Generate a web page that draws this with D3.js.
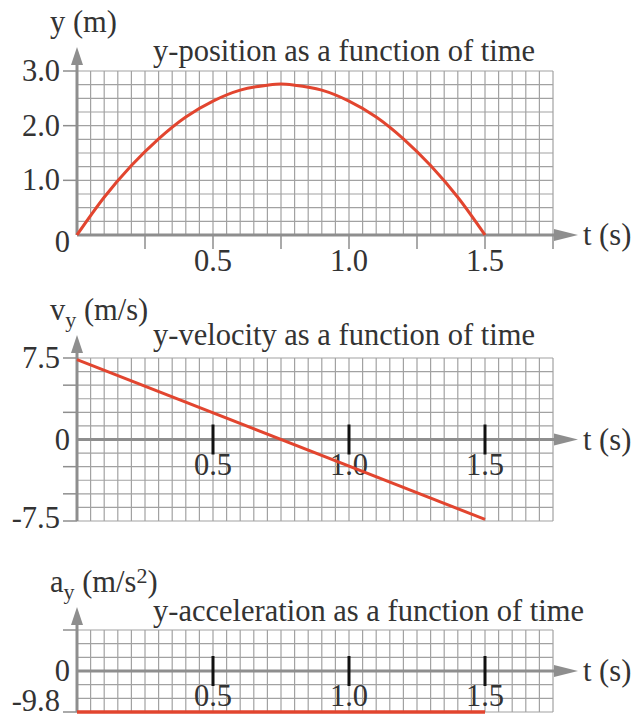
<!DOCTYPE html>
<html>
<head>
<meta charset="utf-8">
<script src="https://cdn.jsdelivr.net/npm/d3@7/dist/d3.min.js"></script>
<style>
  html, body { margin: 0; padding: 0; background: #fff; }
  svg { display: block; }
  text { font-family: "Liberation Serif", "Times New Roman", serif; fill: #333; }
</style>
</head>
<body>
<svg id="chart" width="642" height="719"></svg>
<script>
// Projectile motion in the vertical direction: position, velocity, acceleration vs. time.

// Time samples (s)
const timeSamples = [0, 0.1, 0.2, 0.3, 0.4, 0.5, 0.6, 0.7, 0.75, 0.8, 0.9, 1.0, 1.1, 1.2, 1.3, 1.4, 1.5];
// y-position (m)
const positionValues = [0, 0.69, 1.27, 1.76, 2.16, 2.45, 2.65, 2.74, 2.76, 2.74, 2.65, 2.45, 2.16, 1.76, 1.27, 0.69, 0];
// y-velocity (m/s)
const velocityTimes = [0, 1.5];
const velocityValues = [7.35, -7.35];
// y-acceleration (m/s^2)
const accelTimes = [0, 1.5];
const accelValues = [-9.8, -9.8];

// Tick labels
const timeTickLabels = [0.5, 1.0, 1.5];
const positionTicks = [0, 1, 2, 3];
const velocityTicks = [-7.5, -5, -2.5, 2.5, 5, 7.5];
const velocityLabels = [-7.5, 0, 7.5];
const accelTicks = [-9.8, 9.8];
const accelLabels = [-9.8, 0];

const svg = d3.select("#chart");
const GRID = "#a2a2a2";
const AXIS = "#8e8e8e";
const RED = "#e2452f";
const FONT = 30.5;
const SUB = 22;

const x = d3.scaleLinear().domain([0, 1.75]).range([77, 553]);
const gridTimes = d3.range(0, 36).map(i => i * 0.05);

function arrowUp(g, cx, tipY) {
  g.append("path")
    .attr("d", `M${cx},${tipY} L${cx - 6},${tipY + 18} L${cx + 6},${tipY + 18} Z`)
    .attr("fill", AXIS);
}
function arrowRight(g, tipX, cy) {
  g.append("path")
    .attr("d", `M${tipX},${cy} L${tipX - 24},${cy - 6} L${tipX - 24},${cy + 6} Z`)
    .attr("fill", AXIS);
}

function panel(opts) {
  const g = svg.append("g");
  const y = d3.scaleLinear().domain(opts.domain).range(opts.range);
  const [y0, y1] = [y(opts.domain[0]), y(opts.domain[1])];

  // grid
  g.selectAll(null).data(gridTimes).join("line")
    .attr("x1", d => x(d)).attr("x2", d => x(d))
    .attr("y1", y0).attr("y2", y1)
    .attr("stroke", GRID).attr("stroke-width", 1.2);
  g.selectAll(null).data(opts.gridRows).join("line")
    .attr("x1", x(0)).attr("x2", x(1.75))
    .attr("y1", d => y(d)).attr("y2", d => y(d))
    .attr("stroke", GRID).attr("stroke-width", 1.2);

  // y ticks to the left of the axis
  g.selectAll(null).data(opts.yTicks).join("line")
    .attr("x1", x(0) - 14).attr("x2", x(0))
    .attr("y1", d => y(d)).attr("y2", d => y(d))
    .attr("stroke", AXIS).attr("stroke-width", 1.5);

  // y axis with arrow
  g.append("line")
    .attr("x1", x(0)).attr("x2", x(0))
    .attr("y1", y0).attr("y2", opts.arrowTip + 10)
    .attr("stroke", AXIS).attr("stroke-width", 3);
  arrowUp(g, x(0), opts.arrowTip);

  // time axis with arrow
  const ax = y(opts.axisValue);
  g.append("line")
    .attr("x1", x(0)).attr("x2", 565)
    .attr("y1", ax).attr("y2", ax)
    .attr("stroke", AXIS).attr("stroke-width", 3);
  arrowRight(g, 578, ax);
  g.append("text").attr("x", 583).attr("y", ax + 10)
    .attr("font-size", FONT).text("t (s)");

  // y labels
  g.selectAll(null).data(opts.yLabels).join("text")
    .attr("x", d => d === 0 ? 70 : 60).attr("text-anchor", "end")
    .attr("y", d => opts.labelPos(d, y))
    .attr("font-size", FONT)
    .text(d => d === 0 ? "0" : d.toFixed(1));

  // title
  g.append("text").attr("x", 153).attr("y", opts.titleY)
    .attr("font-size", FONT).text(opts.title);

  // axis name
  const lab = g.append("text").attr("x", 50).attr("y", opts.labelY).attr("font-size", FONT);
  opts.label(lab);

  return { g, y };
}

const line = (y) => d3.line().x(d => x(d[0])).y(d => y(d[1]));

// ---- Panel 1: position ----
const p1 = panel({
  domain: [0, 3], range: [235, 71],
  gridRows: d3.range(0, 13).map(i => i * 0.25),
  yTicks: positionTicks.filter(d => d > 0),
  yLabels: positionTicks,
  labelPos: (d, y) => y(d) + (d === 0 ? 17 : 10),
  axisValue: 0, arrowTip: 47,
  title: "y-position as a function of time", titleY: 61,
  labelY: 32,
  label: t => t.text("y (m)")
});
// ticks below the time axis
p1.g.selectAll(null).data(d3.range(1, 8).map(i => i * 0.25)).join("line")
  .attr("x1", d => x(d)).attr("x2", d => x(d))
  .attr("y1", 235).attr("y2", 249)
  .attr("stroke", AXIS).attr("stroke-width", 1.5);
p1.g.selectAll(null).data(timeTickLabels).join("text")
  .attr("x", d => x(d)).attr("y", 271).attr("text-anchor", "middle")
  .attr("font-size", FONT).text(d => d.toFixed(1));
p1.g.append("path")
  .datum(d3.zip(timeSamples, positionValues))
  .attr("d", line(p1.y).curve(d3.curveMonotoneX))
  .attr("fill", "none").attr("stroke", RED).attr("stroke-width", 3);

// Black tick bars and labels on a centered time axis
function centeredTicks(p, labelY) {
  const ax = p.y(0);
  p.g.selectAll(null).data(timeTickLabels).join("text")
    .attr("x", d => x(d)).attr("y", labelY).attr("text-anchor", "middle")
    .attr("font-size", FONT).attr("fill", "#444").text(d => d.toFixed(1));
  p.g.selectAll(null).data(timeTickLabels).join("line")
    .attr("x1", d => x(d)).attr("x2", d => x(d))
    .attr("y1", ax - 15).attr("y2", ax + 15)
    .attr("stroke", "#111").attr("stroke-width", 3);
}

// ---- Panel 2: velocity ----
const p2 = panel({
  domain: [-7.5, 7.5], range: [521, 358],
  gridRows: d3.range(0, 13).map(i => -7.5 + i * 1.25),
  yTicks: velocityTicks,
  yLabels: velocityLabels,
  labelPos: (d, y) => y(d) + (d < 0 ? 7 : 10),
  axisValue: 0, arrowTip: 335,
  title: "y-velocity as a function of time", titleY: 345,
  labelY: 320,
  label: t => {
    t.append("tspan").text("v");
    t.append("tspan").attr("font-size", SUB).attr("dy", 7).text("y");
    t.append("tspan").attr("dy", -7).text(" (m/s)");
  }
});
centeredTicks(p2, 475);
p2.g.append("path")
  .datum(d3.zip(velocityTimes, velocityValues))
  .attr("d", line(p2.y))
  .attr("fill", "none").attr("stroke", RED).attr("stroke-width", 3);

// ---- Panel 3: acceleration ----
const p3 = panel({
  domain: [-9.8, 9.8], range: [712, 630],
  gridRows: d3.range(0, 7).map(i => -9.8 + i * 9.8 / 3),
  yTicks: accelTicks,
  yLabels: accelLabels,
  labelPos: (d, y) => d < 0 ? 711 : y(d) + 10,
  axisValue: 0, arrowTip: 607,
  title: "y-acceleration as a function of time", titleY: 621,
  labelY: 592,
  label: t => {
    t.append("tspan").text("a");
    t.append("tspan").attr("font-size", SUB).attr("dy", 7).text("y");
    t.append("tspan").attr("dy", -7).text(" (m/s");
    t.append("tspan").attr("font-size", SUB).attr("dy", -9).text("2");
    t.append("tspan").attr("dy", 9).text(")");
  }
});
centeredTicks(p3, 706);
p3.g.append("path")
  .datum(d3.zip(accelTimes, accelValues))
  .attr("d", line(p3.y))
  .attr("fill", "none").attr("stroke", RED).attr("stroke-width", 3.5);
</script>
</body>
</html>
